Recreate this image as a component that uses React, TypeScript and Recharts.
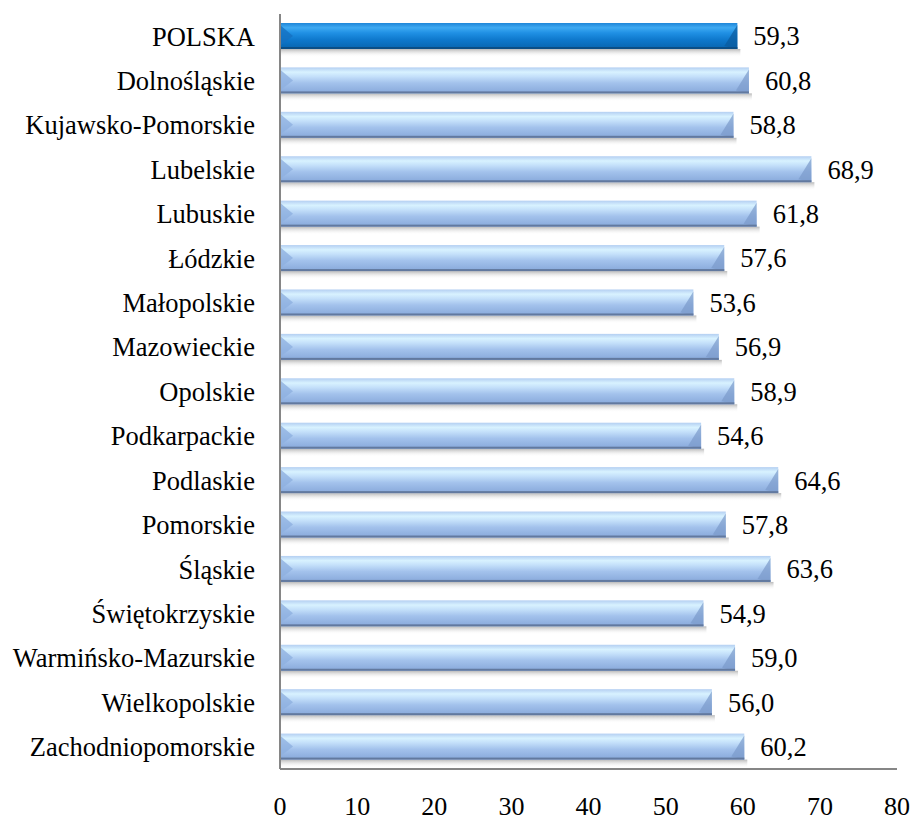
import { BarChart, Bar, XAxis, YAxis, LabelList } from "recharts";

const regions = [
  "POLSKA",
  "Dolnośląskie",
  "Kujawsko-Pomorskie",
  "Lubelskie",
  "Lubuskie",
  "Łódzkie",
  "Małopolskie",
  "Mazowieckie",
  "Opolskie",
  "Podkarpackie",
  "Podlaskie",
  "Pomorskie",
  "Śląskie",
  "Świętokrzyskie",
  "Warmińsko-Mazurskie",
  "Wielkopolskie",
  "Zachodniopomorskie",
];

const values = [
  59.3, 60.8, 58.8, 68.9, 61.8, 57.6, 53.6, 56.9, 58.9, 54.6, 64.6, 57.8, 63.6,
  54.9, 59.0, 56.0, 60.2,
];

const xTicks = [0, 10, 20, 30, 40, 50, 60, 70, 80];

const data = regions.map((name, i) => ({ name, value: values[i] }));

const font = "Liberation Serif, DejaVu Serif, serif";

function GlossyBar(props: any) {
  const { x, y, width, height, index } = props;
  if (!width || width <= 0) return null;
  const dark = index === 0;
  const fill = dark ? "url(#barDark)" : "url(#barLight)";
  const bevel = Math.min(14, height / 2);
  return (
    <g>
      <rect
        x={x}
        y={y + height}
        width={width + 3}
        height={8}
        fill="url(#barShadow)"
      />
      <rect x={x} y={y} width={width} height={height} fill={fill} />
      <polygon
        points={`${x},${y + 2} ${x + bevel},${y + height / 2} ${x},${y + height - 3}`}
        fill={dark ? "#1570c0" : "#8fb0e0"}
        opacity={0.8}
      />
      <polygon
        points={`${x + width - bevel},${y + height - 3} ${x + width},${y + 2} ${x + width},${y + height}`}
        fill={dark ? "#0a5a9c" : "#7b9acb"}
        opacity={0.7}
      />
      <rect
        x={x}
        y={y + height - 2}
        width={width}
        height={2}
        fill={dark ? "#0b4e86" : "#62799f"}
      />
    </g>
  );
}

export default function App() {
  return (
    <div style={{ position: "absolute", left: 0, top: 0, background: "#fff" }}>
      <BarChart
        width={911}
        height={820}
        data={data}
        layout="vertical"
        margin={{ top: 14, right: 14, bottom: 0, left: 0 }}
      >
        <defs>
          <linearGradient id="barLight" x1="0" y1="0" x2="0" y2="1">
            <stop offset="0%" stopColor="#b4cff2" />
            <stop offset="18%" stopColor="#d8f2ff" />
            <stop offset="35%" stopColor="#c4e0fa" />
            <stop offset="60%" stopColor="#a3c2ec" />
            <stop offset="100%" stopColor="#87a8da" />
          </linearGradient>
          <linearGradient id="barDark" x1="0" y1="0" x2="0" y2="1">
            <stop offset="0%" stopColor="#1f86d8" />
            <stop offset="18%" stopColor="#3eaaf2" />
            <stop offset="38%" stopColor="#2090e4" />
            <stop offset="65%" stopColor="#0e78cc" />
            <stop offset="100%" stopColor="#0864ae" />
          </linearGradient>
          <linearGradient id="barShadow" x1="0" y1="0" x2="0" y2="1">
            <stop offset="0%" stopColor="#8a8a8a" stopOpacity={0.6} />
            <stop offset="100%" stopColor="#ffffff" stopOpacity={0} />
          </linearGradient>
        </defs>
        <XAxis
          type="number"
          domain={[0, 80]}
          ticks={xTicks}
          interval={0}
          height={51}
          tickLine={false}
          tickSize={0}
          tickMargin={28}
          axisLine={{ stroke: "#868686", strokeWidth: 2 }}
          tick={{ fill: "#000", fontSize: 26, fontFamily: font }}
        />
        <YAxis
          type="category"
          dataKey="name"
          width={280}
          interval={0}
          tickLine={false}
          tickSize={0}
          tickMargin={25}
          axisLine={{ stroke: "#868686", strokeWidth: 2 }}
          tick={{ fill: "#000", fontSize: 26.5, fontFamily: font }}
        />
        <Bar
          dataKey="value"
          barSize={26}
          shape={GlossyBar}
          isAnimationActive={false}
        >
          <LabelList
            dataKey="value"
            position="right"
            offset={16}
            formatter={(v: any) => Number(v).toFixed(1).replace(".", ",")}
            style={{ fill: "#000", fontSize: 26.5, fontFamily: font }}
          />
        </Bar>
      </BarChart>
    </div>
  );
}
